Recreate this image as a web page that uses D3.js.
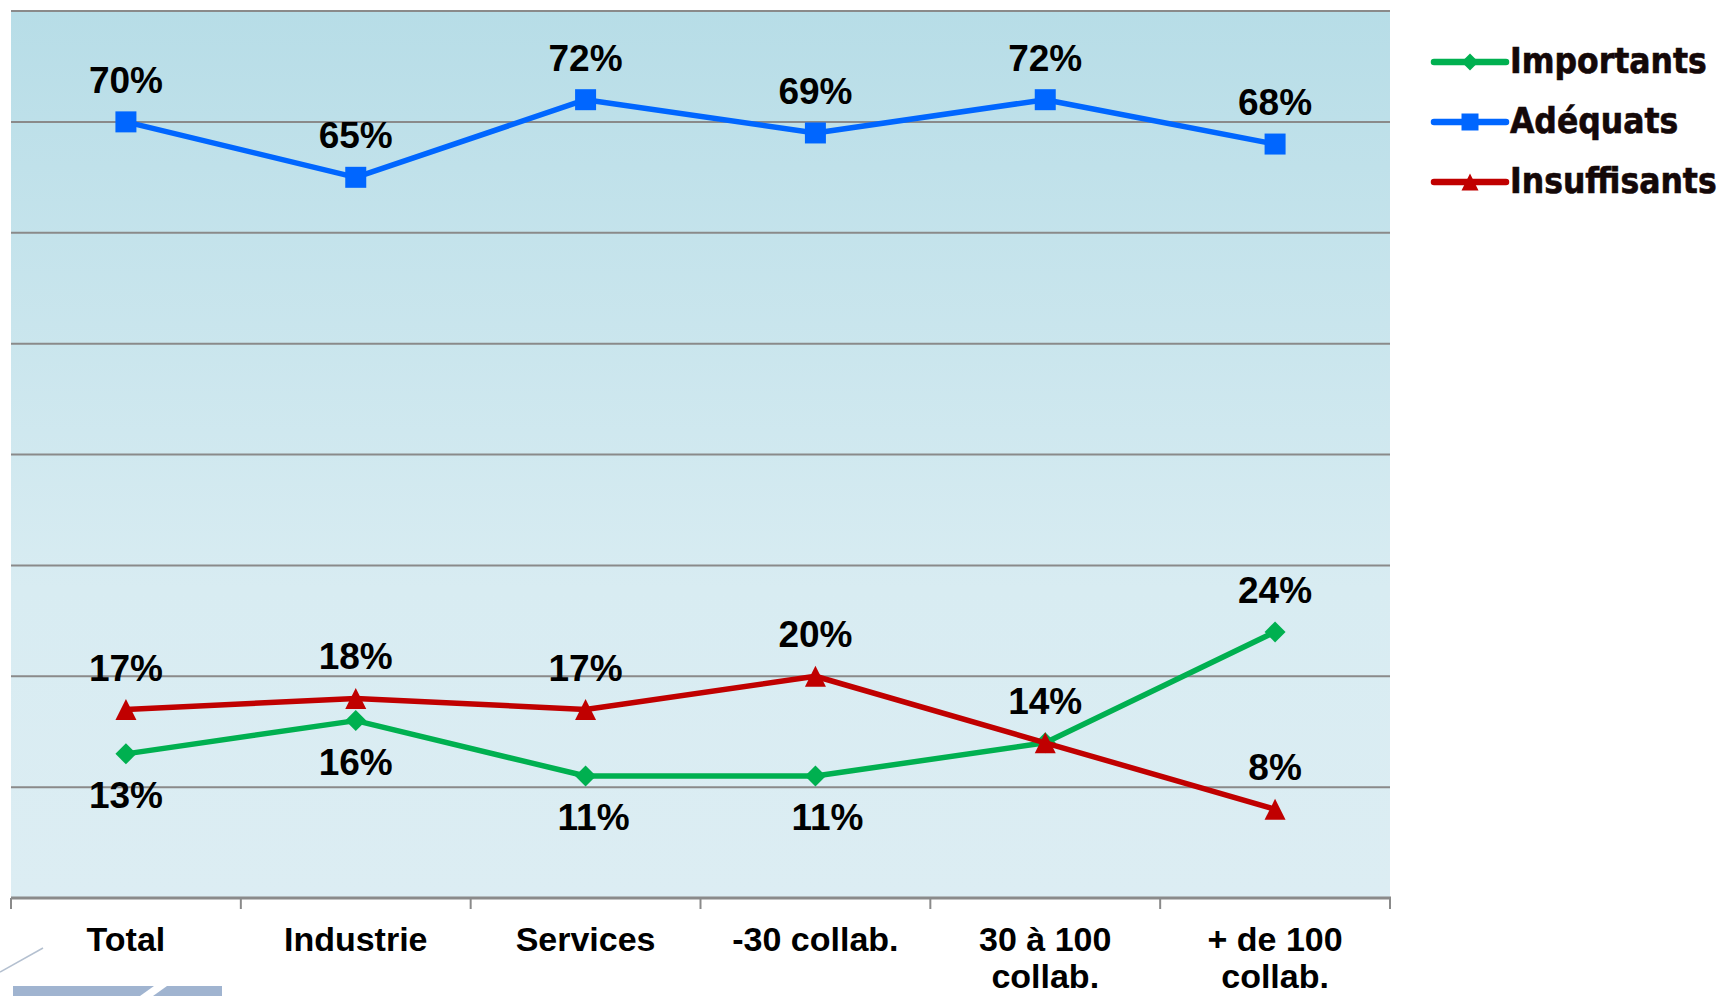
<!DOCTYPE html>
<html>
<head>
<meta charset="utf-8">
<script src="https://cdn.jsdelivr.net/npm/d3@7/dist/d3.min.js"></script>
<style>
  html, body { margin: 0; padding: 0; background: #ffffff; }
  svg { display: block; }
</style>
</head>
<body>
<svg id="chart" width="1725" height="996"></svg>
<script>
// Categories along the x axis (line breaks marked with \n)
const categories = ["Total", "Industrie", "Services", "-30 collab.", "30 à 100\ncollab.", "+ de 100\ncollab."];

// Series values, in percent
const importants   = [13, 16, 11, 11, 14, 24];
const adequats     = [70, 65, 72, 69, 72, 68];
const insuffisants = [17, 18, 17, 20, 14, 8];

// Y gridline values
const yTicks = [10, 20, 30, 40, 50, 60, 70, 80];

// Where each value label sits relative to its point: "a" above, "b" below, null = not written
const importantsLabelSide   = ["b", "b", "b", "b", "a", "a"];
const adequatsLabelSide     = ["a", "a", "a", "a", "a", "a"];
const insuffisantsLabelSide = ["a", "a", "a", "a", null, "a"];

const series = [
  { name: "Importants",   values: importants,   sides: importantsLabelSide,   color: "#00b050", marker: "diamond" },
  { name: "Adéquats",     values: adequats,     sides: adequatsLabelSide,     color: "#0066ff", marker: "square" },
  { name: "Insuffisants", values: insuffisants, sides: insuffisantsLabelSide, color: "#c00000", marker: "triangle" }
];

const svg = d3.select("#chart");
const plot = { left: 11, right: 1390, top: 11, bottom: 898 };

const x = d3.scaleBand().domain(categories).range([plot.left, plot.right]).padding(0);
const y = d3.scaleLinear().domain([0, 80]).range([plot.bottom, plot.top]);

// Background gradient of the plot area
const defs = svg.append("defs");
const grad = defs.append("linearGradient").attr("id", "bg").attr("x1", 0).attr("y1", 0).attr("x2", 0).attr("y2", 1);
grad.append("stop").attr("offset", "0%").attr("stop-color", "#b7dde7");
grad.append("stop").attr("offset", "65%").attr("stop-color", "#d8ecf2");
grad.append("stop").attr("offset", "100%").attr("stop-color", "#dcedf3");

svg.append("rect")
  .attr("x", plot.left).attr("y", plot.top)
  .attr("width", plot.right - plot.left).attr("height", plot.bottom - plot.top)
  .attr("fill", "url(#bg)");

// Horizontal gridlines
svg.append("g").selectAll("line").data(yTicks).join("line")
  .attr("x1", plot.left).attr("x2", plot.right)
  .attr("y1", d => y(d)).attr("y2", d => y(d))
  .attr("stroke", "#8a8a8a").attr("stroke-width", 2);

// Category axis with ticks at the band boundaries
const xAxisG = svg.append("g").attr("transform", `translate(0,${plot.bottom})`);
xAxisG.append("line").attr("x1", plot.left).attr("x2", plot.right + 1)
  .attr("stroke", "#8a8a8a").attr("stroke-width", 3);
const bounds = categories.map(c => x(c)).concat([x(categories[categories.length - 1]) + x.bandwidth()]);
xAxisG.selectAll("line.tick").data(bounds).join("line").attr("class", "tick")
  .attr("x1", d => d).attr("x2", d => d).attr("y1", 0).attr("y2", 11)
  .attr("stroke", "#8a8a8a").attr("stroke-width", 2);

const cx = c => x(c) + x.bandwidth() / 2;

xAxisG.selectAll("text").data(categories).join("text")
  .attr("x", d => cx(d))
  .attr("y", 53)
  .attr("text-anchor", "middle")
  .attr("font-family", "'Liberation Sans', Arial, sans-serif")
  .attr("font-weight", "bold")
  .attr("font-size", 34)
  .attr("fill", "#000")
  .each(function(d) {
    const lines = d.split("\n");
    d3.select(this).selectAll("tspan").data(lines).join("tspan")
      .attr("x", cx(d)).attr("dy", (l, i) => i === 0 ? 0 : 37).text(l => l);
  });

// Marker shapes
function markerPath(type, size) {
  const s = size / 2;
  if (type === "square") return `M${-s},${-s}H${s}V${s}H${-s}Z`;
  if (type === "diamond") return `M0,${-s}L${s},0L0,${s}L${-s},0Z`;
  return `M0,${-s}L${s},${s}L${-s},${s}Z`;
}

const line = d3.line().x(d => cx(d.cat)).y(d => y(d.v));

series.forEach(s => {
  const pts = s.values.map((v, i) => ({ cat: categories[i], v }));
  const g = svg.append("g");
  g.append("path").datum(pts).attr("d", line)
    .attr("fill", "none").attr("stroke", s.color).attr("stroke-width", 5.5)
    .attr("stroke-linejoin", "round");
  g.selectAll("path.m").data(pts).join("path").attr("class", "m")
    .attr("transform", d => `translate(${cx(d.cat)},${y(d.v)})`)
    .attr("d", markerPath(s.marker, s.marker === "triangle" ? 21 : 21))
    .attr("fill", s.color);
});

// Value labels
const labelDx = { "Importants": [0, 0, 8, 12, 0, 0] };
series.forEach(s => {
  const items = s.values.map((v, i) => ({ cat: categories[i], v, side: s.sides[i], dx: (labelDx[s.name] || [])[i] || 0 }))
    .filter(d => d.side);
  svg.append("g").selectAll("text").data(items).join("text")
    .attr("x", d => cx(d.cat) + d.dx)
    .attr("y", d => y(d.v) + (d.side === "a" ? -29 : 54))
    .attr("text-anchor", "middle")
    .attr("font-family", "'Liberation Sans', Arial, sans-serif")
    .attr("font-weight", "bold")
    .attr("font-size", 37)
    .attr("fill", "#000")
    .text(d => d.v + "%");
});

// Legend
const legend = svg.append("g").attr("transform", "translate(1434,62)");
series.forEach((s, i) => {
  const g = legend.append("g").attr("transform", `translate(0,${i * 60})`);
  g.append("line").attr("x1", 0).attr("x2", 72).attr("y1", 0).attr("y2", 0)
    .attr("stroke", s.color).attr("stroke-width", 6.5).attr("stroke-linecap", "round");
  g.append("path").attr("transform", "translate(36,0)")
    .attr("d", markerPath(s.marker, s.marker === "square" ? 17 : 17))
    .attr("fill", s.color);
  g.append("text").attr("x", 76).attr("y", 11)
    .attr("font-family", "'DejaVu Sans', sans-serif")
    .attr("font-stretch", "condensed")
    .attr("font-weight", "bold")
    .attr("font-size", 35)
    .attr("fill", "#140808")
    .attr("stroke", "#140808").attr("stroke-width", 0.6)
    .text(s.name);
});

// Corner emblem at the bottom left
const emblem = svg.append("g");
emblem.append("line").attr("x1", 0).attr("y1", 972).attr("x2", 43).attr("y2", 948)
  .attr("stroke", "#b4c0d0").attr("stroke-width", 1.5);
emblem.append("rect").attr("x", 13).attr("y", 986).attr("width", 209).attr("height", 10).attr("fill", "#a0b4d0");
emblem.append("path").attr("d", "M140,996L154,986L167,986L153,996Z").attr("fill", "#ffffff");
</script>
</body>
</html>
